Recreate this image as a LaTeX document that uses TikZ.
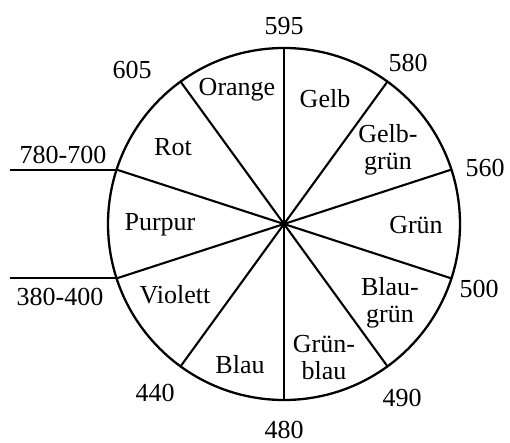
\documentclass[tikz,border=0pt]{standalone}
\usepackage{fontspec}
\setmainfont{Liberation Serif}
\usetikzlibrary{calc}

\begin{document}
\begin{tikzpicture}[
    x=1pt, y=1pt,
    wheel/.style  = {line width=2.3pt},
    spoke/.style  = {line width=2.1pt},
    hue/.style    = {align=center, inner sep=0pt, font=\fontsize{26}{27}\selectfont},
    wave/.style   = {inner sep=0pt, font=\fontsize{26}{27}\selectfont}
]
\useasboundingbox (0,0) rectangle (510,443);

% --- Kreis ---
\coordinate (c) at (284,219);
\draw[wheel] (c) circle (176);

% --- Speichen ---
\coordinate (s595) at ($(c)+(90:176)$);
\coordinate (s580) at ($(c)+(54:176)$);
\coordinate (s560) at ($(c)+(18:176)$);
\coordinate (s500) at ($(c)+(-18:176)$);
\coordinate (s490) at ($(c)+(-54:176)$);
\coordinate (s480) at ($(c)+(-90:176)$);
\coordinate (s440) at ($(c)+(-126:176)$);
\coordinate (s400) at ($(c)+(-162:176)$);
\coordinate (s700) at ($(c)+(162:176)$);
\coordinate (s605) at ($(c)+(126:176)$);
\coordinate (edge) at (10,0);

\draw[spoke] (c) -- (s595);
\draw[spoke] (c) -- (s580);
\draw[spoke] (c) -- (s560);
\draw[spoke] (c) -- (s500);
\draw[spoke] (c) -- (s490);
\draw[spoke] (c) -- (s480);
\draw[spoke] (c) -- (s440);
\draw[spoke] (c) -- (s400);
\draw[spoke] (c) -- (s700);
\draw[spoke] (c) -- (s605);
\draw[spoke] (s700) -- (s700 -| edge);
\draw[spoke] (s400) -- (s400 -| edge);

% --- Farben ---
\node[hue] (orange)   at (237,353) {Orange};
\node[hue] (gelb)     at (325,344) {Gelb};
\node[hue] (gelbgr)   at (388,293) {Gelb-\\grün};
\node[hue] (gruen)    at (416,218) {Grün};
\node[hue] (blaugr)   at (390,140) {Blau-\\grün};
\node[hue] (gruenbl)  at (324,85)  {Grün-\\blau};
\node[hue] (blau)     at (240,78)  {Blau};
\node[hue] (violett)  at (175,148) {Violett};
\node[hue] (purpur)   at (160,218) {Purpur};
\node[hue] (rot)      at (173,296) {Rot};

% --- Wellenlaengen ---
\node[wave] (w595) at (284,417) {595};
\node[wave] (w580) at (408,380) {580};
\node[wave] (w560) at (485,275) {560};
\node[wave] (w500) at (479,154) {500};
\node[wave] (w490) at (402,45)  {490};
\node[wave] (w480) at (284,13)  {480};
\node[wave] (w440) at (155,50)  {440};
\node[wave] (w400) at (60,146)  {380-400};
\node[wave] (w700) at (63,288)  {780-700};
\node[wave] (w605) at (132,373) {605};

\end{tikzpicture}
\end{document}
